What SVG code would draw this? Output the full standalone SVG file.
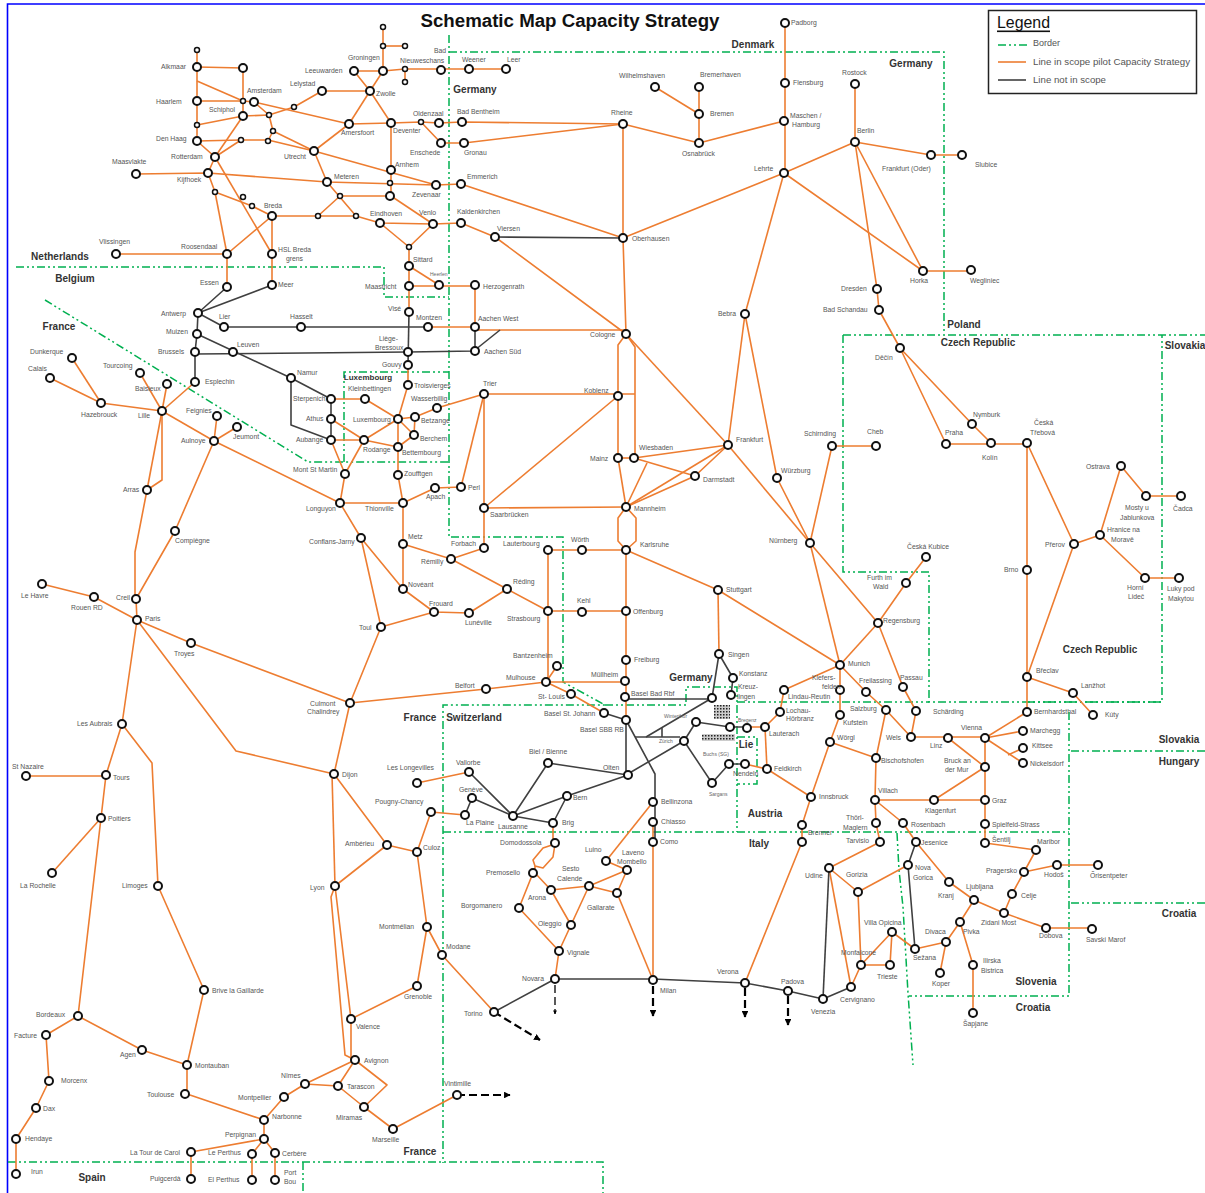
<svg xmlns="http://www.w3.org/2000/svg" width="1205" height="1193" viewBox="0 0 1205 1193">
<style>
text{font-family:"Liberation Sans",Arial,sans-serif;dominant-baseline:central}
.l{font-size:6.8px;fill:#555}
.t{font-size:5px;fill:#666}
.c{font-size:10px;font-weight:bold;fill:#333;text-anchor:middle}
.o path{fill:none;stroke:#ED7D31;stroke-width:1.6;stroke-linejoin:round}
.k path{fill:none;stroke:#404040;stroke-width:1.6;stroke-linejoin:round}
.b path{fill:none;stroke:#00B050;stroke-width:1.5;stroke-dasharray:8 3 2 3 2 3}
circle{fill:#fff;stroke:#111;stroke-width:2}
circle.s{stroke-width:1.5}
.d path{fill:none;stroke:#000;stroke-width:2.2;stroke-dasharray:8 4}
</style>
<defs>
<marker id="ah" viewBox="0 0 10 10" refX="9" refY="5" markerWidth="3" markerHeight="3" orient="auto"><path d="M0 0L10 5L0 10z" fill="#000"/></marker>
<pattern id="hat" width="3" height="3" patternUnits="userSpaceOnUse"><rect width="3" height="3" fill="#ccc"/><rect width="1.5" height="1.5" fill="#222"/></pattern>
</defs>
<path d="M1205 4H7.5V1193" fill="none" stroke="#00f" stroke-width="1.6"/>
<g id="borders" class="b">
<path d="M449 35V537H563V682L605 705H443V1163"/>
<path d="M449 52H944V334"/>
<path d="M843 335H1205"/>
<path d="M843 335V572H929V702H1162V335"/>
<path d="M16 267H384V297H449"/>
<path d="M45 300L308 462H449"/>
<path d="M344 462V372H449"/>
<path d="M605 705H686V687H737V832"/>
<path d="M737 702H929"/>
<path d="M737 737H757V784H737"/>
<path d="M443 832H1069"/>
<path d="M1027 702H1162"/>
<path d="M1069 712V996H909"/>
<path d="M1071 751H1205"/>
<path d="M1071 903H1205"/>
<path d="M897 833L899 870L903 907L908 993L913 1065"/>
<path d="M8 1162H603V1193"/>
<path d="M303 1162V1193"/>
</g>
<text x="570" y="21" text-anchor="middle" font-size="18" font-weight="bold" fill="#111" textLength="299" lengthAdjust="spacingAndGlyphs">Schematic Map Capacity Strategy</text>
<g id="legend">
<rect x="988.500" y="10.500" width="208" height="83" fill="#fff" stroke="#222" stroke-width="1.5"/>
<text x="997" y="22" font-size="16" fill="#111" text-decoration="underline" textLength="53" lengthAdjust="spacingAndGlyphs">Legend</text>
<path d="M998 45H1027" stroke="#00B050" stroke-width="1.5" stroke-dasharray="8 3 2 3 2 3"/>
<path d="M998 62H1026" stroke="#ED7D31" stroke-width="1.6"/>
<path d="M998 80H1026" stroke="#404040" stroke-width="1.6"/>
<text x="1033" y="43" font-size="9" fill="#555">Border</text>
<text x="1033" y="62" font-size="9" fill="#555" textLength="157" lengthAdjust="spacingAndGlyphs">Line in scope pilot Capacity Strategy</text>
<text x="1033" y="80" font-size="9" fill="#555" textLength="73" lengthAdjust="spacingAndGlyphs">Line not in scope</text>
</g>
<g id="countries">
<text class="c" x="753" y="44">Denmark</text><text class="c" x="911" y="63">Germany</text><text class="c" x="475" y="89">Germany</text><text class="c" x="60" y="256">Netherlands</text><text class="c" x="75" y="278">Belgium</text><text class="c" x="59" y="326">France</text><text class="c" x="368" y="377" style="font-size:8px">Luxembourg</text><text class="c" x="964" y="324">Poland</text><text class="c" x="978" y="342">Czech Republic</text><text class="c" x="1185" y="345">Slovakia</text><text class="c" x="1100" y="649">Czech Republic</text><text class="c" x="1179" y="739">Slovakia</text><text class="c" x="1179" y="761">Hungary</text><text class="c" x="1179" y="913">Croatia</text><text class="c" x="1036" y="981">Slovenia</text><text class="c" x="1033" y="1007">Croatia</text><text class="c" x="759" y="843">Italy</text><text class="c" x="765" y="813">Austria</text><text class="c" x="746" y="744">Lie</text><text class="c" x="691" y="677">Germany</text><text class="c" x="420" y="717">France</text><text class="c" x="474" y="717">Switzerland</text><text class="c" x="420" y="1151">France</text><text class="c" x="92" y="1177">Spain</text>
</g>
<g id="hatches"><rect x="714" y="705" width="16" height="14" fill="url(#hat)"/><rect x="702" y="734" width="33" height="7" fill="url(#hat)"/></g>
<g id="connectors">
<g class="o">
<path d="M197 50V141"/><path d="M197 67L243 68V116"/><path d="M197 81L243 101"/><path d="M197 101H243L254 102"/><path d="M197 125L243 116L269 115"/><path d="M243 116L215 157"/><path d="M254 102L269 115L273 131L268 141"/><path d="M197 141L215 157"/><path d="M197 141L241 140H268L314 151"/><path d="M215 157L241 140"/><path d="M273 131L314 151"/><path d="M314 151L436 185"/><path d="M314 151L349 124"/><path d="M254 102L349 124"/><path d="M269 115L294 107L322 91H370"/><path d="M370 91L349 124"/><path d="M370 91L391 123"/><path d="M370 91L383 71"/><path d="M370 91L354 71H383"/><path d="M383 71V27"/><path d="M383 46H405"/><path d="M383 71L405 69H441L469 69H506"/><path d="M405 69V82"/><path d="M349 124L391 123L421 122L439 123L462 122L623 124"/><path d="M421 122L441 143L464 143L623 124"/><path d="M391 123V196"/><path d="M314 151L327 182"/><path d="M136 174L208 173L327 182L436 185"/><path d="M215 157L208 173L215 192L252 206L272 216"/><path d="M215 157L272 254"/><path d="M215 192L227 254"/><path d="M272 216L227 254"/><path d="M272 216V254"/><path d="M272 216L356 216"/><path d="M318 216L340 196H391"/><path d="M327 182L356 216L380 223L433 224"/><path d="M391 196L433 224"/><path d="M380 223L409 247"/><path d="M433 224L409 247V286"/><path d="M409 266L439 285"/><path d="M409 286H475V327"/><path d="M409 286V312"/><path d="M433 224L461 223L495 237L626 334"/><path d="M436 185L461 184L623 238"/><path d="M623 124V238L626 334"/><path d="M623 238L784 173L855 142"/><path d="M784 173L923 271H971"/><path d="M784 173L745 314"/><path d="M785 23V173"/><path d="M699 87V143"/><path d="M655 87L699 114"/><path d="M623 124L699 143L784 121"/><path d="M855 84V142L931 155H962"/><path d="M855 142L923 271"/><path d="M855 142L877 289L879 310L900 348L972 424L991 443"/><path d="M900 348L946 444H1027V712"/><path d="M1027 443L1074 544L1027 677"/><path d="M1074 544L1100 535L1121 466L1146 496H1181"/><path d="M1100 535L1145 578H1179"/><path d="M1027 677L1073 693L1093 715"/><path d="M1027 712L985 738"/><path d="M116 254H227V287"/><path d="M272 254V285"/><path d="M428 327H475"/><path d="M475 330H626"/><path d="M626 334L618 345V458"/><path d="M626 334L635 347V458"/><path d="M626 334L728 445"/><path d="M484 394H635"/><path d="M618 396L484 508"/><path d="M618 458H634"/><path d="M618 458L626 507"/><path d="M634 458L728 445"/><path d="M634 458L695 476"/><path d="M647 463L626 507"/><path d="M626 507L728 445"/><path d="M626 507L695 476L728 445"/><path d="M484 508L626 507"/><path d="M626 507L618 518V541L626 550"/><path d="M626 507L636 518V541L626 550"/><path d="M484 394V548L451 559"/><path d="M484 394L461 487"/><path d="M451 559L403 544"/><path d="M451 559L507 589L548 611"/><path d="M507 589L469 613L434 612L403 589L361 538"/><path d="M434 612L381 627"/><path d="M403 503V589"/><path d="M340 503H403"/><path d="M403 503L398 475V419"/><path d="M403 503L435 488L461 487"/><path d="M340 503L345 474L331 440"/><path d="M345 474L364 440"/><path d="M331 440H364"/><path d="M331 419L364 440"/><path d="M364 440L398 419"/><path d="M364 440L398 447"/><path d="M331 399H365L398 419L408 385V365"/><path d="M398 419L415 417L437 408L484 394"/><path d="M415 417L414 435L398 447"/><path d="M398 419L414 435"/><path d="M214 441L340 503L361 538L381 627L350 703L191 643L137 620"/><path d="M350 703L486 689L546 682H625"/><path d="M546 682L557 666"/><path d="M546 682L571 694L604 713"/><path d="M626 550V720"/><path d="M548 550V682"/><path d="M548 550H626"/><path d="M548 611H626"/><path d="M626 550L718 590L840 665"/><path d="M718 590L719 654"/><path d="M728 445L745 314"/><path d="M728 445L810 543"/><path d="M745 314L777 478L810 543"/><path d="M810 543L832 446H876"/><path d="M810 543L840 665"/><path d="M810 543L878 623L906 583L926 557"/><path d="M878 623L840 665"/><path d="M878 623L903 687L916 711L911 737"/><path d="M840 665L866 692L886 710L911 737"/><path d="M886 710L876 758"/><path d="M840 665V715L830 742"/><path d="M840 665L784 690L780 712L765 727H747"/><path d="M830 742L876 758L875 800"/><path d="M830 742L811 797L767 769L745 764"/><path d="M811 797L802 825V842L745 983"/><path d="M765 727L767 769"/><path d="M875 800L876 823L880 842"/><path d="M875 800L903 823L916 842L949 882L974 900L1004 913L1046 928H1092"/><path d="M875 800H985"/><path d="M911 737H985"/><path d="M948 738L985 767L934 800"/><path d="M985 738V843"/><path d="M985 738L1023 731"/><path d="M985 738L1023 763"/><path d="M1008 755L1023 748"/><path d="M985 843L1036 850L1024 872L1057 865H1098"/><path d="M1024 872L1012 894L1004 913"/><path d="M974 900L960 922L946 942L915 949L892 932L890 965L861 965"/><path d="M946 942L940 973"/><path d="M960 922L973 965V1013"/><path d="M892 932L861 965L851 987"/><path d="M861 965L858 892L829 868L880 842"/><path d="M858 892L908 865"/><path d="M829 868L851 987"/>
<path d="M72 358L101 403"/><path d="M50 378L101 403L162 411"/><path d="M140 373L162 411"/><path d="M167 384L162 411"/><path d="M195 382L162 411"/><path d="M162 411L214 441"/><path d="M162 411L147 490"/><path d="M162 411V480L147 490L135 552V599"/><path d="M214 441L175 531L136 599L137 620"/><path d="M214 441L217 416"/><path d="M214 441L237 427"/><path d="M42 584L94 597L137 620L122 724L106 775L101 818L78 1016"/><path d="M137 620L236 751L334 774"/><path d="M122 724L152 763L158 886L204 990L187 1065"/><path d="M26 776H106"/><path d="M101 818L52 873"/><path d="M78 1016L46 1035L49 1081L36 1108L16 1139V1174"/><path d="M78 1016L142 1050L187 1065V1094L264 1120L284 1097L305 1084L355 1060"/><path d="M305 1084L338 1086L355 1060"/><path d="M338 1086L364 1107L393 1129L457 1095"/><path d="M355 1060L387 1085L364 1107"/><path d="M264 1120V1139L191 1152V1179"/><path d="M264 1139L252 1154V1180"/><path d="M264 1139L275 1153V1180"/><path d="M350 703L334 774"/><path d="M332 774L335 886"/><path d="M334 774L387 845L335 886"/><path d="M387 845L417 852L431 812L465 815"/><path d="M417 852L427 927L442 955L494 1012"/><path d="M427 927L417 986L351 1019"/><path d="M335 886L351 1019V1060"/><path d="M335 886L331 897L345 1055L355 1060"/><path d="M417 783L469 772"/><path d="M553 823V843"/><path d="M555 844L543 848L533 860L535 866L543 868L553 857Z"/><path d="M535 866V873L551 890L589 886L627 870"/><path d="M533 873L519 908L559 951"/><path d="M551 890L571 925L589 886L617 893L627 870"/><path d="M571 925L559 951L555 979"/><path d="M606 861L627 870"/><path d="M606 861L653 802"/><path d="M617 893L653 980"/><path d="M653 822V980"/>
</g>
<g class="k">
<path d="M495 237L623 238"/><path d="M227 287L198 313L272 285"/><path d="M198 313L224 327H428"/><path d="M198 313L197 334L195 352V382"/><path d="M197 334L291 378L331 399V440"/><path d="M195 354L408 352L475 351V327"/><path d="M475 350L500 330"/><path d="M409 312L408 365"/><path d="M291 378V425L331 440"/><path d="M469 772L513 816L548 763L628 775"/><path d="M472 798L513 816"/><path d="M472 798L465 815"/><path d="M513 816L567 796L628 775"/><path d="M513 816L553 823L567 796"/><path d="M604 713L626 720V775L684 741"/><path d="M626 720L655 774V842"/><path d="M625 699L686 699H712"/><path d="M635 737H680"/><path d="M662 728V737"/><path d="M646 737L712 698L719 654L733 678L731 695"/><path d="M684 741L696 722L730 727H747"/><path d="M684 741L712 783L729 764H745"/><path d="M916 842L908 865L915 949"/><path d="M829 868L823 999"/><path d="M494 1012L555 979H653L745 983L788 991L823 999L851 987"/>
</g>
<g class="d">
<path d="M494 1012L540 1040" marker-end="url(#ah)"/><path d="M457 1095H510" marker-end="url(#ah)"/><path d="M653 986V1016" marker-end="url(#ah)"/><path d="M745 988V1017" marker-end="url(#ah)"/><path d="M788 996V1025" marker-end="url(#ah)"/><path d="M555 985V1014" style="stroke-width:1.3" marker-end="url(#ah)"/>
</g>
</g>
<g id="nodes">
<g id="s01"><circle class="s" cx="197" cy="50" r="2.500"/></g>
<g id="alkmaar"><circle cx="197" cy="67" r="4"/><text class="l" x="161" y="66">Alkmaar</text></g>
<g id="s02"><circle cx="243" cy="68" r="4"/></g>
<g id="haarlem"><circle cx="197" cy="101" r="4"/><text class="l" x="156" y="101">Haarlem</text></g>
<g id="s03"><circle class="s" cx="243" cy="101" r="2.500"/></g>
<g id="amsterdam"><circle cx="254" cy="102" r="4"/><text class="l" x="247" y="90">Amsterdam</text></g>
<g id="schiphol"><circle cx="243" cy="116" r="4"/><text class="l" x="209" y="109">Schiphol</text></g>
<g id="s04"><circle class="s" cx="197" cy="125" r="2.500"/></g>
<g id="denhaag"><circle cx="197" cy="141" r="4"/><text class="l" x="156" y="138">Den Haag</text></g>
<g id="s05"><circle class="s" cx="241" cy="140" r="2.500"/></g>
<g id="s06"><circle class="s" cx="268" cy="141" r="2.500"/></g>
<g id="s07"><circle class="s" cx="269" cy="115" r="2.500"/></g>
<g id="s08"><circle class="s" cx="273" cy="131" r="2.500"/></g>
<g id="rotterdam"><circle cx="215" cy="157" r="4"/><text class="l" x="171" y="156">Rotterdam</text></g>
<g id="maasvlakte"><circle cx="136" cy="174" r="4"/><text class="l" x="112" y="161">Maasvlakte</text></g>
<g id="kijfhoek"><circle cx="208" cy="173" r="4"/><text class="l" x="177" y="179">Kijfhoek</text></g>
<g id="s09"><circle class="s" cx="215" cy="192" r="2.500"/></g>
<g id="s10"><circle class="s" cx="243" cy="197" r="2.500"/></g>
<g id="s11"><circle class="s" cx="252" cy="206" r="2.500"/></g>
<g id="breda"><circle cx="272" cy="216" r="4"/><text class="l" x="264" y="205">Breda</text></g>
<g id="s12"><circle class="s" cx="318" cy="216" r="2.500"/></g>
<g id="s13"><circle class="s" cx="356" cy="216" r="2.500"/></g>
<g id="s14"><circle class="s" cx="340" cy="196" r="2.500"/></g>
<g id="meteren"><circle cx="327" cy="182" r="4"/><text class="l" x="334" y="176">Meteren</text></g>
<g id="utrecht"><circle cx="314" cy="151" r="4"/><text class="l" x="284" y="156">Utrecht</text></g>
<g id="amersfoort"><circle cx="349" cy="124" r="4"/><text class="l" x="341" y="132">Amersfoort</text></g>
<g id="lelystad"><circle cx="322" cy="91" r="4"/><text class="l" x="290" y="83">Lelystad</text></g>
<g id="s15"><circle class="s" cx="294" cy="107" r="2.500"/></g>
<g id="leeuwarden"><circle cx="354" cy="71" r="4"/><text class="l" x="305" y="70">Leeuwarden</text></g>
<g id="groningen"><circle cx="383" cy="71" r="4"/><text class="l" x="348" y="57">Groningen</text></g>
<g id="zwolle"><circle cx="370" cy="91" r="4"/><text class="l" x="376" y="93">Zwolle</text></g>
<g id="s16"><circle class="s" cx="383" cy="46" r="2.500"/></g>
<g id="s17"><circle class="s" cx="383" cy="27" r="2.500"/></g>
<g id="s18"><circle class="s" cx="405" cy="46" r="2.500"/></g>
<g id="s19"><circle class="s" cx="405" cy="69" r="2.500"/></g>
<g id="s20"><circle class="s" cx="405" cy="82" r="2.500"/></g>
<g id="nieuweschans"><circle cx="441" cy="70" r="4"/><text class="l" x="434" y="50">Bad</text><text class="l" x="400" y="60">Nieuweschans</text></g>
<g id="weener"><circle cx="469" cy="69" r="4"/><text class="l" x="462" y="59">Weener</text></g>
<g id="leer"><circle cx="506" cy="69" r="4"/><text class="l" x="507" y="59">Leer</text></g>
<g id="deventer"><circle cx="391" cy="123" r="4"/><text class="l" x="393" y="130">Deventer</text></g>
<g id="s21"><circle class="s" cx="421" cy="122" r="2.500"/></g>
<g id="oldenzaal"><circle cx="439" cy="123" r="4"/><text class="l" x="413" y="113">Oldenzaal</text></g>
<g id="enschede"><circle cx="441" cy="143" r="4"/><text class="l" x="410" y="152">Enschede</text></g>
<g id="arnhem"><circle cx="391" cy="170" r="4"/><text class="l" x="395" y="164">Arnhem</text></g>
<g id="s22"><circle class="s" cx="390" cy="183" r="2.500"/></g>
<g id="s23"><circle cx="390" cy="196" r="4"/></g>
<g id="zevenaar"><circle cx="436" cy="185" r="4"/><text class="l" x="412" y="194">Zevenaar</text></g>
<g id="eindhoven"><circle cx="380" cy="223" r="4"/><text class="l" x="370" y="213">Eindhoven</text></g>
<g id="venlo"><circle cx="433" cy="224" r="4"/><text class="l" x="419" y="212">Venlo</text></g>
<g id="s24"><circle class="s" cx="409" cy="247" r="2.500"/></g>
<g id="sittard"><circle cx="409" cy="266" r="4"/><text class="l" x="413" y="259">Sittard</text></g>
<g id="heerlen"><circle cx="439" cy="285" r="4"/><text class="t" x="430" y="274">Heerlen</text></g>
<g id="maastricht"><circle cx="409" cy="286" r="4"/><text class="l" x="365" y="286">Maastricht</text></g>
<g id="roosendaal"><circle cx="227" cy="254" r="4"/><text class="l" x="181" y="246">Roosendaal</text></g>
<g id="hslbreda"><circle cx="272" cy="254" r="4"/><text class="l" x="278" y="249">HSL Breda</text><text class="l" x="286" y="258">grens</text></g>
<g id="vlissingen"><circle cx="116" cy="254" r="4"/><text class="l" x="99" y="241">Vlissingen</text></g>
<g id="essen"><circle cx="227" cy="287" r="4"/><text class="l" x="200" y="282">Essen</text></g>
<g id="meer"><circle cx="272" cy="285" r="4"/><text class="l" x="278" y="284">Meer</text></g>
<g id="antwerp"><circle cx="198" cy="313" r="4"/><text class="l" x="161" y="313">Antwerp</text></g>
<g id="lier"><circle cx="224" cy="327" r="4"/><text class="l" x="219" y="316">Lier</text></g>
<g id="hasselt"><circle cx="301" cy="327" r="4"/><text class="l" x="290" y="316">Hasselt</text></g>
<g id="montzen"><circle cx="428" cy="327" r="4"/><text class="l" x="416" y="317">Montzen</text></g>
<g id="vise"><circle cx="409" cy="312" r="4"/><text class="l" x="388" y="308">Visé</text></g>
<g id="aachenwest"><circle cx="475" cy="327" r="4"/><text class="l" x="478" y="318">Aachen West</text></g>
<g id="aachensud"><circle cx="475" cy="351" r="4"/><text class="l" x="484" y="351">Aachen Süd</text></g>
<g id="herzogenrath"><circle cx="475" cy="285" r="4"/><text class="l" x="483" y="286">Herzogenrath</text></g>
<g id="wilhelmshaven"><circle cx="655" cy="87" r="4"/><text class="l" x="619" y="75">Wilhelmshaven</text></g>
<g id="bremerhaven"><circle cx="699" cy="87" r="4"/><text class="l" x="700" y="74">Bremerhaven</text></g>
<g id="bremen"><circle cx="699" cy="114" r="4"/><text class="l" x="710" y="113">Bremen</text></g>
<g id="osnabruck"><circle cx="699" cy="143" r="4"/><text class="l" x="682" y="153">Osnabrück</text></g>
<g id="rheine"><circle cx="623" cy="124" r="4"/><text class="l" x="611" y="112">Rheine</text></g>
<g id="badbentheim"><circle cx="462" cy="122" r="4"/><text class="l" x="457" y="111">Bad Bentheim</text></g>
<g id="gronau"><circle cx="464" cy="143" r="4"/><text class="l" x="464" y="152">Gronau</text></g>
<g id="emmerich"><circle cx="461" cy="184" r="4"/><text class="l" x="467" y="176">Emmerich</text></g>
<g id="kaldenkirchen"><circle cx="461" cy="223" r="4"/><text class="l" x="457" y="211">Kaldenkirchen</text></g>
<g id="viersen"><circle cx="495" cy="237" r="4"/><text class="l" x="497" y="228">Viersen</text></g>
<g id="oberhausen"><circle cx="623" cy="238" r="4"/><text class="l" x="632" y="238">Oberhausen</text></g>
<g id="padborg"><circle cx="785" cy="23" r="4"/><text class="l" x="791" y="22">Padborg</text></g>
<g id="flensburg"><circle cx="785" cy="83" r="4"/><text class="l" x="793" y="82">Flensburg</text></g>
<g id="maschen"><circle cx="784" cy="121" r="4"/><text class="l" x="790" y="115">Maschen /</text><text class="l" x="792" y="124">Hamburg</text></g>
<g id="lehrte"><circle cx="784" cy="173" r="4"/><text class="l" x="754" y="168">Lehrte</text></g>
<g id="rostock"><circle cx="855" cy="84" r="4"/><text class="l" x="842" y="72">Rostock</text></g>
<g id="berlin"><circle cx="855" cy="142" r="4"/><text class="l" x="857" y="130">Berlin</text></g>
<g id="frankfurtoder"><circle cx="931" cy="155" r="4"/><text class="l" x="882" y="168">Frankfurt (Oder)</text></g>
<g id="slubice"><circle cx="962" cy="155" r="4"/><text class="l" x="975" y="164">Slubice</text></g>
<g id="horka"><circle cx="923" cy="271" r="4"/><text class="l" x="910" y="280">Horka</text></g>
<g id="wegliniec"><circle cx="971" cy="270" r="4"/><text class="l" x="970" y="280">Wegliniec</text></g>
<g id="dresden"><circle cx="877" cy="289" r="4"/><text class="l" x="841" y="288">Dresden</text></g>
<g id="badschandau"><circle cx="879" cy="310" r="4"/><text class="l" x="823" y="309">Bad Schandau</text></g>
<g id="bebra"><circle cx="745" cy="314" r="4"/><text class="l" x="718" y="313">Bebra</text></g>
<g id="cologne"><circle cx="626" cy="334" r="4"/><text class="l" x="590" y="334">Cologne</text></g>
<g id="muizen"><circle cx="197" cy="334" r="4"/><text class="l" x="166" y="331">Muizen</text></g>
<g id="brussels"><circle cx="195" cy="352" r="4"/><text class="l" x="158" y="351">Brussels</text></g>
<g id="leuven"><circle cx="233" cy="352" r="4"/><text class="l" x="237" y="344">Leuven</text></g>
<g id="esplechin"><circle cx="195" cy="382" r="4"/><text class="l" x="205" y="381">Esplechin</text></g>
<g id="dunkerque"><circle cx="72" cy="358" r="4"/><text class="l" x="30" y="351">Dunkerque</text></g>
<g id="calais"><circle cx="50" cy="378" r="4"/><text class="l" x="28" y="368">Calais</text></g>
<g id="tourcoing"><circle cx="140" cy="373" r="4"/><text class="l" x="103" y="365">Tourcoing</text></g>
<g id="baisieux"><circle cx="167" cy="384" r="4"/><text class="l" x="135" y="388">Baisieux</text></g>
<g id="hazebrouck"><circle cx="101" cy="403" r="4"/><text class="l" x="81" y="414">Hazebrouck</text></g>
<g id="lille"><circle cx="162" cy="411" r="4"/><text class="l" x="138" y="415">Lille</text></g>
<g id="feignies"><circle cx="217" cy="416" r="4"/><text class="l" x="186" y="410">Feignies</text></g>
<g id="jeumont"><circle cx="237" cy="427" r="4"/><text class="l" x="233" y="436">Jeumont</text></g>
<g id="aulnoye"><circle cx="214" cy="441" r="4"/><text class="l" x="181" y="440">Aulnoye</text></g>
<g id="arras"><circle cx="147" cy="490" r="4"/><text class="l" x="123" y="489">Arras</text></g>
<g id="compiegne"><circle cx="175" cy="531" r="4"/><text class="l" x="175" y="540">Compiègne</text></g>
<g id="namur"><circle cx="291" cy="378" r="4"/><text class="l" x="297" y="372">Namur</text></g>
<g id="sterpenich"><circle cx="331" cy="399" r="4"/><text class="l" x="293" y="398">Sterpenich</text></g>
<g id="athus"><circle cx="331" cy="419" r="4"/><text class="l" x="306" y="418">Athus</text></g>
<g id="aubange"><circle cx="331" cy="440" r="4"/><text class="l" x="296" y="439">Aubange</text></g>
<g id="kleinbettingen"><circle cx="365" cy="399" r="4"/><text class="l" x="348" y="388">Kleinbettingen</text></g>
<g id="luxembourg"><circle cx="398" cy="419" r="4"/><text class="l" x="353" y="419">Luxembourg</text></g>
<g id="rodange"><circle cx="364" cy="440" r="4"/><text class="l" x="363" y="449">Rodange</text></g>
<g id="bettembourg"><circle cx="398" cy="447" r="4"/><text class="l" x="402" y="452">Bettembourg</text></g>
<g id="betzange"><circle cx="415" cy="417" r="4"/><text class="l" x="421" y="420">Betzange</text></g>
<g id="berchem"><circle cx="414" cy="435" r="4"/><text class="l" x="420" y="438">Berchem</text></g>
<g id="wasserbillig"><circle cx="437" cy="408" r="4"/><text class="l" x="411" y="398">Wasserbillig</text></g>
<g id="troisvierges"><circle cx="408" cy="385" r="4"/><text class="l" x="414" y="385">Troisvierges</text></g>
<g id="gouvy"><circle cx="408" cy="365" r="4"/><text class="l" x="382" y="364">Gouvy</text></g>
<g id="liege"><circle cx="408" cy="352" r="4"/><text class="l" x="379" y="338">Liège-</text><text class="l" x="375" y="347">Bressoux</text></g>
<g id="montstmartin"><circle cx="345" cy="474" r="4"/><text class="l" x="293" y="469">Mont St Martin</text></g>
<g id="zoufftgen"><circle cx="398" cy="475" r="4"/><text class="l" x="404" y="473">Zoufftgen</text></g>
<g id="apach"><circle cx="435" cy="488" r="4"/><text class="l" x="426" y="496">Apach</text></g>
<g id="perl"><circle cx="461" cy="487" r="4"/><text class="l" x="468" y="487">Perl</text></g>
<g id="longuyon"><circle cx="340" cy="503" r="4"/><text class="l" x="306" y="508">Longuyon</text></g>
<g id="thionville"><circle cx="403" cy="503" r="4"/><text class="l" x="365" y="508">Thionville</text></g>
<g id="conflans"><circle cx="361" cy="538" r="4"/><text class="l" x="309" y="541">Conflans-Jarny</text></g>
<g id="metz"><circle cx="403" cy="544" r="4"/><text class="l" x="408" y="536">Metz</text></g>
<g id="remilly"><circle cx="451" cy="559" r="4"/><text class="l" x="421" y="561">Rémilly</text></g>
<g id="noveant"><circle cx="403" cy="589" r="4"/><text class="l" x="408" y="584">Novéant</text></g>
<g id="trier"><circle cx="484" cy="394" r="4"/><text class="l" x="483" y="383">Trier</text></g>
<g id="saarbrucken"><circle cx="484" cy="508" r="4"/><text class="l" x="490" y="514">Saarbrücken</text></g>
<g id="forbach"><circle cx="484" cy="548" r="4"/><text class="l" x="451" y="543">Forbach</text></g>
<g id="koblenz"><circle cx="618" cy="396" r="4"/><text class="l" x="584" y="390">Koblenz</text></g>
<g id="mainz"><circle cx="618" cy="458" r="4"/><text class="l" x="590" y="458">Mainz</text></g>
<g id="wiesbaden"><circle cx="634" cy="458" r="4"/><text class="l" x="639" y="447">Wiesbaden</text></g>
<g id="frankfurt"><circle cx="728" cy="445" r="4"/><text class="l" x="736" y="439">Frankfurt</text></g>
<g id="darmstadt"><circle cx="695" cy="476" r="4"/><text class="l" x="703" y="479">Darmstadt</text></g>
<g id="mannheim"><circle cx="626" cy="507" r="4"/><text class="l" x="634" y="508">Mannheim</text></g>
<g id="karlsruhe"><circle cx="626" cy="550" r="4"/><text class="l" x="640" y="544">Karlsruhe</text></g>
<g id="lauterbourg"><circle cx="548" cy="550" r="4"/><text class="l" x="503" y="543">Lauterbourg</text></g>
<g id="worth"><circle cx="582" cy="550" r="4"/><text class="l" x="571" y="539">Wörth</text></g>
<g id="stuttgart"><circle cx="718" cy="590" r="4"/><text class="l" x="726" y="589">Stuttgart</text></g>
<g id="reding"><circle cx="507" cy="589" r="4"/><text class="l" x="513" y="581">Réding</text></g>
<g id="strasbourg"><circle cx="548" cy="611" r="4"/><text class="l" x="507" y="618">Strasbourg</text></g>
<g id="kehl"><circle cx="582" cy="612" r="4"/><text class="l" x="577" y="600">Kehl</text></g>
<g id="offenburg"><circle cx="626" cy="611" r="4"/><text class="l" x="633" y="611">Offenburg</text></g>
<g id="luneville"><circle cx="469" cy="613" r="4"/><text class="l" x="465" y="622">Lunéville</text></g>
<g id="frouard"><circle cx="434" cy="612" r="4"/><text class="l" x="429" y="603">Frouard</text></g>
<g id="toul"><circle cx="381" cy="627" r="4"/><text class="l" x="359" y="627">Toul</text></g>
<g id="wurzburg"><circle cx="777" cy="478" r="4"/><text class="l" x="781" y="470">Würzburg</text></g>
<g id="schirnding"><circle cx="832" cy="446" r="4"/><text class="l" x="804" y="433">Schirnding</text></g>
<g id="cheb"><circle cx="876" cy="446" r="4"/><text class="l" x="867" y="431">Cheb</text></g>
<g id="nurnberg"><circle cx="810" cy="543" r="4"/><text class="l" x="769" y="540">Nürnberg</text></g>
<g id="decin"><circle cx="900" cy="348" r="4"/><text class="l" x="875" y="357">Děčín</text></g>
<g id="nymburk"><circle cx="972" cy="424" r="4"/><text class="l" x="973" y="414">Nymburk</text></g>
<g id="praha"><circle cx="946" cy="444" r="4"/><text class="l" x="945" y="432">Praha</text></g>
<g id="kolin"><circle cx="991" cy="443" r="4"/><text class="l" x="982" y="457">Kolín</text></g>
<g id="ceskatrebova"><circle cx="1027" cy="443" r="4"/><text class="l" x="1034" y="422">Česká</text><text class="l" x="1030" y="432">Třebová</text></g>
<g id="ostrava"><circle cx="1121" cy="466" r="4"/><text class="l" x="1086" y="466">Ostrava</text></g>
<g id="mosty"><circle cx="1146" cy="496" r="4"/><text class="l" x="1125" y="507">Mosty u</text><text class="l" x="1120" y="517">Jablunkova</text></g>
<g id="cadca"><circle cx="1181" cy="496" r="4"/><text class="l" x="1173" y="508">Čadca</text></g>
<g id="prerov"><circle cx="1074" cy="544" r="4"/><text class="l" x="1045" y="544">Přerov</text></g>
<g id="hranice"><circle cx="1100" cy="535" r="4"/><text class="l" x="1107" y="529">Hranice na</text><text class="l" x="1111" y="539">Moravě</text></g>
<g id="hornilidec"><circle cx="1145" cy="578" r="4"/><text class="l" x="1127" y="587">Horní</text><text class="l" x="1128" y="596">Lideč</text></g>
<g id="luky"><circle cx="1179" cy="578" r="4"/><text class="l" x="1167" y="588">Luky pod</text><text class="l" x="1168" y="598">Makytou</text></g>
<g id="brno"><circle cx="1027" cy="570" r="4"/><text class="l" x="1004" y="569">Brno</text></g>
<g id="ceskakubice"><circle cx="926" cy="557" r="4"/><text class="l" x="907" y="546">Česká Kubice</text></g>
<g id="furth"><circle cx="906" cy="583" r="4"/><text class="l" x="867" y="577">Furth im</text><text class="l" x="873" y="586">Wald</text></g>
<g id="regensburg"><circle cx="878" cy="623" r="4"/><text class="l" x="883" y="620">Regensburg</text></g>
<g id="munich"><circle cx="840" cy="665" r="4"/><text class="l" x="848" y="663">Munich</text></g>
<g id="breclav"><circle cx="1027" cy="677" r="4"/><text class="l" x="1036" y="670">Břeclav</text></g>
<g id="lanzhot"><circle cx="1073" cy="693" r="4"/><text class="l" x="1081" y="685">Lanžhot</text></g>
<g id="kuty"><circle cx="1093" cy="715" r="4"/><text class="l" x="1105" y="714">Kúty</text></g>
<g id="passau"><circle cx="903" cy="687" r="4"/><text class="l" x="900" y="677">Passau</text></g>
<g id="scharding"><circle cx="916" cy="711" r="4"/><text class="l" x="933" y="711">Schärding</text></g>
<g id="freilassing"><circle cx="866" cy="692" r="4"/><text class="l" x="859" y="680">Freilassing</text></g>
<g id="salzburg"><circle cx="886" cy="710" r="4"/><text class="l" x="850" y="708">Salzburg</text></g>
<g id="kiefersfelden"><circle cx="840" cy="690" r="4"/><text class="l" x="812" y="677">Kiefers-</text><text class="l" x="822" y="686">felden</text></g>
<g id="kufstein"><circle cx="840" cy="715" r="4"/><text class="l" x="843" y="722">Kufstein</text></g>
<g id="worgl"><circle cx="830" cy="742" r="4"/><text class="l" x="837" y="737">Wörgl</text></g>
<g id="bischofshofen"><circle cx="876" cy="758" r="4"/><text class="l" x="881" y="760">Bischofshofen</text></g>
<g id="wels"><circle cx="911" cy="737" r="4"/><text class="l" x="886" y="737">Wels</text></g>
<g id="linz"><circle cx="948" cy="738" r="4"/><text class="l" x="930" y="745">Linz</text></g>
<g id="vienna"><circle cx="985" cy="738" r="4"/><text class="l" x="961" y="727">Vienna</text></g>
<g id="bernhardsthal"><circle cx="1027" cy="712" r="4"/><text class="l" x="1034" y="711">Bernhardsthal</text></g>
<g id="marchegg"><circle cx="1023" cy="731" r="4"/><text class="l" x="1030" y="730">Marchegg</text></g>
<g id="kittsee"><circle cx="1023" cy="748" r="4"/><text class="l" x="1032" y="745">Kittsee</text></g>
<g id="nickelsdorf"><circle cx="1023" cy="763" r="4"/><text class="l" x="1030" y="763">Nickelsdorf</text></g>
<g id="bruck"><circle cx="985" cy="767" r="4"/><text class="l" x="944" y="760">Bruck an</text><text class="l" x="945" y="769">der Mur</text></g>
<g id="graz"><circle cx="985" cy="800" r="4"/><text class="l" x="992" y="800">Graz</text></g>
<g id="klagenfurt"><circle cx="934" cy="800" r="4"/><text class="l" x="925" y="810">Klagenfurt</text></g>
<g id="villach"><circle cx="875" cy="800" r="4"/><text class="l" x="878" y="790">Villach</text></g>
<g id="innsbruck"><circle cx="811" cy="797" r="4"/><text class="l" x="819" y="796">Innsbruck</text></g>
<g id="rosenbach"><circle cx="903" cy="823" r="4"/><text class="l" x="911" y="824">Rosenbach</text></g>
<g id="thorl"><circle cx="876" cy="823" r="4"/><text class="l" x="846" y="817">Thörl-</text><text class="l" x="843" y="827">Maglern</text></g>
<g id="spielfeld"><circle cx="985" cy="824" r="4"/><text class="l" x="992" y="824">Spielfeld-Strass</text></g>
<g id="sentilj"><circle cx="985" cy="843" r="4"/><text class="l" x="992" y="839">Šentilj</text></g>
<g id="brenner"><circle cx="802" cy="825" r="4"/><text class="l" x="808" y="832">Brenner</text></g>
<g id="brennero"><circle cx="802" cy="842" r="4"/></g>
<g id="tarvisio"><circle cx="880" cy="842" r="4"/><text class="l" x="846" y="840">Tarvisio</text></g>
<g id="jesenice"><circle cx="916" cy="842" r="4"/><text class="l" x="921" y="842">Jesenice</text></g>
<g id="novagorica"><circle cx="908" cy="865" r="4"/><text class="l" x="915" y="867">Nova</text><text class="l" x="913" y="877">Gorica</text></g>
<g id="maribor"><circle cx="1036" cy="850" r="4"/><text class="l" x="1037" y="841">Maribor</text></g>
<g id="pragersko"><circle cx="1024" cy="872" r="4"/><text class="l" x="986" y="870">Pragersko</text></g>
<g id="hodos"><circle cx="1057" cy="865" r="4"/><text class="l" x="1044" y="874">Hodoš</text></g>
<g id="orisentpeter"><circle cx="1098" cy="865" r="4"/><text class="l" x="1090" y="875">Őrisentpeter</text></g>
<g id="kranj"><circle cx="949" cy="882" r="4"/><text class="l" x="938" y="895">Kranj</text></g>
<g id="celje"><circle cx="1012" cy="894" r="4"/><text class="l" x="1021" y="895">Celje</text></g>
<g id="ljubljana"><circle cx="974" cy="900" r="4"/><text class="l" x="966" y="886">Ljubljana</text></g>
<g id="zidanimost"><circle cx="1004" cy="913" r="4"/><text class="l" x="981" y="922">Zidani Most</text></g>
<g id="dobova"><circle cx="1046" cy="928" r="4"/><text class="l" x="1039" y="935">Dobova</text></g>
<g id="savskimarof"><circle cx="1092" cy="929" r="4"/><text class="l" x="1086" y="939">Savski Marof</text></g>
<g id="pivka"><circle cx="960" cy="922" r="4"/><text class="l" x="963" y="931">Pivka</text></g>
<g id="divaca"><circle cx="946" cy="942" r="4"/><text class="l" x="925" y="931">Divaca</text></g>
<g id="sezana"><circle cx="915" cy="949" r="4"/><text class="l" x="913" y="957">Sežana</text></g>
<g id="villaopicina"><circle cx="892" cy="932" r="4"/><text class="l" x="864" y="922">Villa Opicina</text></g>
<g id="koper"><circle cx="940" cy="973" r="4"/><text class="l" x="932" y="983">Koper</text></g>
<g id="ilirska"><circle cx="973" cy="965" r="4"/><text class="l" x="983" y="960">Ilirska</text><text class="l" x="981" y="970">Bistrica</text></g>
<g id="sapjane"><circle cx="973" cy="1013" r="4"/><text class="l" x="963" y="1023">Šapjane</text></g>
<g id="udine"><circle cx="829" cy="868" r="4"/><text class="l" x="805" y="875">Udine</text></g>
<g id="gorizia"><circle cx="858" cy="892" r="4"/><text class="l" x="846" y="874">Gorizia</text></g>
<g id="monfalcone"><circle cx="861" cy="965" r="4"/><text class="l" x="841" y="952">Monfalcone</text></g>
<g id="trieste"><circle cx="890" cy="965" r="4"/><text class="l" x="877" y="976">Trieste</text></g>
<g id="cervignano"><circle cx="851" cy="987" r="4"/><text class="l" x="840" y="999">Cervignano</text></g>
<g id="venezia"><circle cx="823" cy="999" r="4"/><text class="l" x="811" y="1011">Venezia</text></g>
<g id="padova"><circle cx="788" cy="991" r="4"/><text class="l" x="781" y="981">Padova</text></g>
<g id="verona"><circle cx="745" cy="983" r="4"/><text class="l" x="717" y="971">Verona</text></g>
<g id="milan"><circle cx="653" cy="980" r="4"/><text class="l" x="660" y="990">Milan</text></g>
<g id="novara"><circle cx="555" cy="979" r="4"/><text class="l" x="522" y="978">Novara</text></g>
<g id="torino"><circle cx="494" cy="1012" r="4"/><text class="l" x="464" y="1013">Torino</text></g>
<g id="modane"><circle cx="442" cy="955" r="4"/><text class="l" x="446" y="946">Modane</text></g>
<g id="leslongevilles"><circle cx="417" cy="783" r="4"/><text class="l" x="387" y="767">Les Longevilles</text></g>
<g id="vallorbe"><circle cx="469" cy="772" r="4"/><text class="l" x="456" y="762">Vallorbe</text></g>
<g id="geneve"><circle cx="472" cy="798" r="4"/><text class="l" x="459" y="789">Genève</text></g>
<g id="laplaine"><circle cx="465" cy="815" r="4"/><text class="l" x="466" y="822">La Plaine</text></g>
<g id="pougny"><circle cx="431" cy="812" r="4"/><text class="l" x="375" y="801">Pougny-Chancy</text></g>
<g id="biel"><circle cx="548" cy="763" r="4"/><text class="l" x="529" y="751">Biel / Bienne</text></g>
<g id="olten"><circle cx="628" cy="775" r="4"/><text class="l" x="603" y="767">Olten</text></g>
<g id="bern"><circle cx="567" cy="796" r="4"/><text class="l" x="573" y="797">Bern</text></g>
<g id="lausanne"><circle cx="513" cy="816" r="4"/><text class="l" x="498" y="826">Lausanne</text></g>
<g id="brig"><circle cx="553" cy="823" r="4"/><text class="l" x="562" y="822">Brig</text></g>
<g id="domodossola"><circle cx="555" cy="843" r="4"/><text class="l" x="500" y="842">Domodossola</text></g>
<g id="bellinzona"><circle cx="653" cy="802" r="4"/><text class="l" x="661" y="801">Bellinzona</text></g>
<g id="chiasso"><circle cx="653" cy="822" r="4"/><text class="l" x="661" y="821">Chiasso</text></g>
<g id="como"><circle cx="653" cy="842" r="4"/><text class="l" x="660" y="841">Como</text></g>
<g id="luino"><circle cx="606" cy="861" r="4"/><text class="l" x="585" y="849">Luino</text></g>
<g id="laveno"><circle cx="627" cy="870" r="4"/><text class="l" x="622" y="852">Laveno</text><text class="l" x="617" y="861">Mombello</text></g>
<g id="sesto"><circle cx="589" cy="886" r="4"/><text class="l" x="562" y="868">Sesto</text><text class="l" x="557" y="878">Calende</text></g>
<g id="premosello"><circle cx="533" cy="873" r="4"/><text class="l" x="486" y="872">Premosello</text></g>
<g id="arona"><circle cx="551" cy="890" r="4"/><text class="l" x="528" y="897">Arona</text></g>
<g id="gallarate"><circle cx="617" cy="893" r="4"/><text class="l" x="587" y="907">Gallarate</text></g>
<g id="borgomanero"><circle cx="519" cy="908" r="4"/><text class="l" x="461" y="905">Borgomanero</text></g>
<g id="oleggio"><circle cx="571" cy="925" r="4"/><text class="l" x="538" y="923">Oleggio</text></g>
<g id="vignale"><circle cx="559" cy="951" r="4"/><text class="l" x="567" y="952">Vignale</text></g>
<g id="amberieu"><circle cx="387" cy="845" r="4"/><text class="l" x="345" y="843">Ambérieu</text></g>
<g id="culoz"><circle cx="417" cy="852" r="4"/><text class="l" x="423" y="847">Culoz</text></g>
<g id="montmelian"><circle cx="427" cy="927" r="4"/><text class="l" x="379" y="926">Montmélian</text></g>
<g id="grenoble"><circle cx="417" cy="986" r="4"/><text class="l" x="404" y="996">Grenoble</text></g>
<g id="valence"><circle cx="351" cy="1019" r="4"/><text class="l" x="356" y="1026">Valence</text></g>
<g id="dijon"><circle cx="334" cy="774" r="4"/><text class="l" x="342" y="774">Dijon</text></g>
<g id="culmont"><circle cx="350" cy="703" r="4"/><text class="l" x="310" y="703">Culmont</text><text class="l" x="307" y="711">Chalindrey</text></g>
<g id="lyon"><circle cx="335" cy="886" r="4"/><text class="l" x="310" y="887">Lyon</text></g>
<g id="lehavre"><circle cx="42" cy="584" r="4"/><text class="l" x="21" y="595">Le Havre</text></g>
<g id="rouen"><circle cx="94" cy="597" r="4"/><text class="l" x="71" y="607">Rouen RD</text></g>
<g id="creil"><circle cx="136" cy="599" r="4"/><text class="l" x="116" y="597">Creil</text></g>
<g id="paris"><circle cx="137" cy="620" r="4"/><text class="l" x="145" y="618">Paris</text></g>
<g id="troyes"><circle cx="191" cy="643" r="4"/><text class="l" x="174" y="653">Troyes</text></g>
<g id="lesaubrais"><circle cx="122" cy="724" r="4"/><text class="l" x="77" y="723">Les Aubrais</text></g>
<g id="stnazaire"><circle cx="26" cy="776" r="4"/><text class="l" x="12" y="766">St Nazaire</text></g>
<g id="tours"><circle cx="106" cy="775" r="4"/><text class="l" x="113" y="777">Tours</text></g>
<g id="poitiers"><circle cx="101" cy="818" r="4"/><text class="l" x="108" y="818">Poitiers</text></g>
<g id="larochelle"><circle cx="52" cy="873" r="4"/><text class="l" x="20" y="885">La Rochelle</text></g>
<g id="limoges"><circle cx="158" cy="886" r="4"/><text class="l" x="122" y="885">Limoges</text></g>
<g id="brive"><circle cx="204" cy="990" r="4"/><text class="l" x="212" y="990">Brive la Gaillarde</text></g>
<g id="bordeaux"><circle cx="78" cy="1016" r="4"/><text class="l" x="36" y="1014">Bordeaux</text></g>
<g id="facture"><circle cx="46" cy="1035" r="4"/><text class="l" x="14" y="1035">Facture</text></g>
<g id="morcenx"><circle cx="49" cy="1081" r="4"/><text class="l" x="61" y="1080">Morcenx</text></g>
<g id="agen"><circle cx="142" cy="1050" r="4"/><text class="l" x="120" y="1054">Agen</text></g>
<g id="montauban"><circle cx="187" cy="1065" r="4"/><text class="l" x="195" y="1065">Montauban</text></g>
<g id="toulouse"><circle cx="185" cy="1094" r="4"/><text class="l" x="147" y="1094">Toulouse</text></g>
<g id="dax"><circle cx="36" cy="1108" r="4"/><text class="l" x="43" y="1108">Dax</text></g>
<g id="hendaye"><circle cx="16" cy="1139" r="4"/><text class="l" x="25" y="1138">Hendaye</text></g>
<g id="irun"><circle cx="16" cy="1174" r="4"/><text class="l" x="31" y="1171">Irun</text></g>
<g id="narbonne"><circle cx="264" cy="1120" r="4"/><text class="l" x="272" y="1116">Narbonne</text></g>
<g id="montpellier"><circle cx="284" cy="1097" r="4"/><text class="l" x="238" y="1097">Montpellier</text></g>
<g id="nimes"><circle cx="305" cy="1084" r="4"/><text class="l" x="281" y="1075">Nîmes</text></g>
<g id="avignon"><circle cx="355" cy="1060" r="4"/><text class="l" x="364" y="1060">Avignon</text></g>
<g id="tarascon"><circle cx="338" cy="1086" r="4"/><text class="l" x="347" y="1086">Tarascon</text></g>
<g id="miramas"><circle cx="364" cy="1107" r="4"/><text class="l" x="336" y="1117">Miramas</text></g>
<g id="marseille"><circle cx="393" cy="1129" r="4"/><text class="l" x="372" y="1139">Marseille</text></g>
<g id="vintimille"><circle cx="457" cy="1095" r="4"/><text class="l" x="444" y="1083">Vintimille</text></g>
<g id="perpignan"><circle cx="264" cy="1139" r="4"/><text class="l" x="225" y="1134">Perpignan</text></g>
<g id="latour"><circle cx="191" cy="1152" r="4"/><text class="l" x="130" y="1152">La Tour de Carol</text></g>
<g id="leperthus"><circle cx="252" cy="1154" r="4"/><text class="l" x="208" y="1152">Le Perthus</text></g>
<g id="cerbere"><circle cx="275" cy="1153" r="4"/><text class="l" x="282" y="1153">Cerbère</text></g>
<g id="puigcerda"><circle cx="191" cy="1179" r="4"/><text class="l" x="150" y="1178">Puigcerdà</text></g>
<g id="elperthus"><circle cx="252" cy="1180" r="4"/><text class="l" x="208" y="1179">El Perthus</text></g>
<g id="portbou"><circle cx="275" cy="1180" r="4"/><text class="l" x="284" y="1172">Port</text><text class="l" x="284" y="1181">Bou</text></g>
<g id="bantzenheim"><circle cx="557" cy="666" r="4"/><text class="l" x="513" y="655">Bantzenheim</text></g>
<g id="belfort"><circle cx="486" cy="689" r="4"/><text class="l" x="455" y="685">Belfort</text></g>
<g id="mulhouse"><circle cx="546" cy="682" r="4"/><text class="l" x="506" y="677">Mulhouse</text></g>
<g id="mullheim"><circle cx="625" cy="681" r="4"/><text class="l" x="591" y="674">Müllheim</text></g>
<g id="freiburg"><circle cx="626" cy="660" r="4"/><text class="l" x="634" y="659">Freiburg</text></g>
<g id="baselbad"><circle cx="625" cy="697" r="4"/><text class="l" x="631" y="693">Basel Bad Rbf</text></g>
<g id="stlouis"><circle cx="571" cy="694" r="4"/><text class="l" x="538" y="696">St- Louis</text></g>
<g id="stjohann"><circle cx="604" cy="713" r="4"/><text class="l" x="544" y="713">Basel St. Johann</text></g>
<g id="baselsbb"><circle cx="626" cy="720" r="4"/><text class="l" x="580" y="729">Basel SBB RB</text></g>
<g id="singen"><circle cx="719" cy="654" r="4"/><text class="l" x="728" y="654">Singen</text></g>
<g id="konstanz"><circle cx="733" cy="678" r="4"/><text class="l" x="739" y="673">Konstanz</text></g>
<g id="kreuzlingen"><circle cx="731" cy="695" r="4"/><text class="l" x="738" y="686">Kreuz-</text><text class="l" x="737" y="696">lingen</text></g>
<g id="schaffhausen"><circle cx="712" cy="698" r="4"/></g>
<g id="winterthur"><text class="t" x="664" y="716">Winterthur</text></g>
<g id="zurich"><circle cx="684" cy="741" r="4"/><text class="t" x="659" y="741">Zürich</text></g>
<g id="n696"><circle cx="696" cy="722" r="4"/></g>
<g id="stmargrethen"><circle cx="730" cy="727" r="4"/></g>
<g id="bregenz"><circle cx="747" cy="728" r="4"/><text class="t" x="738" y="720">Bregenz</text></g>
<g id="lauterach"><circle cx="765" cy="727" r="4"/><text class="l" x="769" y="733">Lauterach</text></g>
<g id="buchs"><circle cx="729" cy="764" r="4"/><text class="t" x="703" y="754">Buchs (SG)</text></g>
<g id="nendeln"><circle cx="745" cy="764" r="4"/><text class="l" x="733" y="773">Nendeln</text></g>
<g id="feldkirch"><circle cx="767" cy="769" r="4"/><text class="l" x="774" y="768">Feldkirch</text></g>
<g id="sargans"><circle cx="712" cy="783" r="4"/><text class="t" x="709" y="794">Sargans</text></g>
<g id="lindau"><circle cx="784" cy="690" r="4"/><text class="l" x="788" y="696">Lindau-Reutin</text></g>
<g id="lochau"><circle cx="780" cy="712" r="4"/><text class="l" x="786" y="710">Lochau-</text><text class="l" x="786" y="718">Hörbranz</text></g>
</g>
</svg>
